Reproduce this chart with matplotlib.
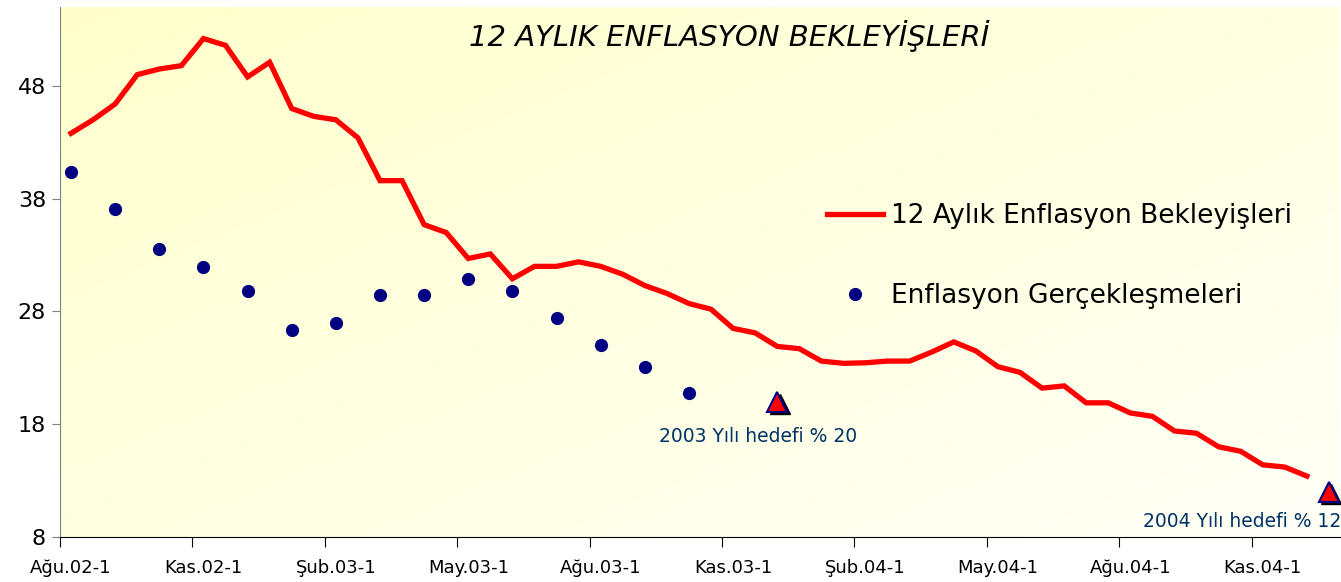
import numpy as np
import matplotlib
matplotlib.use("Agg")
import matplotlib.pyplot as plt
import matplotlib.transforms as mtransforms

# half-month categories, Ağu.02-1 = 0
tick_labels = ["Ağu.02-1", "Kas.02-1", "Şub.03-1", "May.03-1", "Ağu.03-1",
               "Kas.03-1", "Şub.04-1", "May.04-1", "Ağu.04-1", "Kas.04-1"]
n_categories = 58

expectations = [43.8, 45.0, 46.4, 49.0, 49.5, 49.8, 52.2, 51.6, 48.8, 50.1,
                46.0, 45.3, 45.0, 43.4, 39.6, 39.6, 35.7, 35.0, 32.7, 33.1,
                30.9, 32.0, 32.0, 32.4, 32.0, 31.3, 30.3, 29.6, 28.7, 28.2,
                26.5, 26.1, 24.9, 24.7, 23.6, 23.4, 23.45, 23.6, 23.6, 24.4,
                25.3, 24.5, 23.1, 22.6, 21.2, 21.4, 19.9, 19.9, 19.0, 18.7,
                17.4, 17.2, 16.0, 15.6, 14.4, 14.2, 13.4]
actual_idx = [0, 2, 4, 6, 8, 10, 12, 14, 16, 18, 20, 22, 24, 26, 28]
actuals = [40.4, 37.1, 33.5, 31.9, 29.8, 26.4, 27.0, 29.5, 29.5, 30.9,
           29.8, 27.4, 25.0, 23.05, 20.8]
target_idx = [32, 57]
targets = [20, 12]
target_labels = ["2003 Yılı hedefi % 20", "2004 Yılı hedefi % 12"]

fig = plt.figure(figsize=(13.41, 5.82), dpi=100)
ax = fig.add_axes([60 / 1341, 45 / 582, 1280 / 1341, 530 / 582])

# yellow gradient background, strongest top-left
gx, gy = np.meshgrid(np.linspace(0, 1, 200), np.linspace(0, 1, 200))
g = (gx + gy) / 2
c0 = np.array([1.0, 1.0, 0.80])
c1 = np.array([1.0, 1.0, 0.97])
img = c0 + (c1 - c0) * g[..., None]
ax.imshow(img, extent=[0, 1, 0, 1], transform=ax.transAxes, aspect="auto",
          origin="upper", zorder=0)

x = np.arange(len(expectations))
line, = ax.plot(x, expectations, color="#FF0000", lw=3.8, zorder=3,
                solid_joinstyle="miter", label="12 Aylık Enflasyon Bekleyişleri")
dots, = ax.plot(actual_idx, actuals, "o", color="#000080", ms=8.5, ls="none",
                zorder=4, label="Enflasyon Gerçekleşmeleri")

shadow = mtransforms.offset_copy(ax.transData, fig=fig, x=2.5, y=-2.5, units="dots")
ax.plot(target_idx, targets, "^", color="black", ms=15, ls="none",
        transform=shadow, zorder=5)
ax.plot(target_idx, targets, "^", color="#FF0000", mec="#000080", mew=1.5,
        ms=15, ls="none", zorder=6)

ax.annotate(target_labels[0], (target_idx[0], targets[0]), xytext=(-14, -25),
            textcoords="offset points", ha="center", va="center",
            fontsize=13.5, color="#003366", zorder=7)
ax.annotate(target_labels[1], (target_idx[1], targets[1]), xytext=(9, -21),
            textcoords="offset points", ha="right", va="center",
            fontsize=13.5, color="#003366", zorder=7)

ax.set_xlim(-0.5, n_categories - 0.5)
ax.set_ylim(8, 55)
ax.set_yticks([8, 18, 28, 38, 48])
ax.tick_params(axis="y", labelsize=16, length=6, color="#808080", pad=4)

label_pos = np.arange(len(tick_labels)) * 6
ax.set_xticks(label_pos - 0.5)
ax.set_xticklabels([])
ax.set_xticks(label_pos, minor=True)
ax.set_xticklabels(tick_labels, minor=True, fontsize=13)
ax.tick_params(axis="x", which="major", length=7, color="black")
ax.tick_params(axis="x", which="minor", length=0, pad=16)

for s in ["top", "right"]:
    ax.spines[s].set_visible(False)
ax.spines["left"].set_color("#808080")
ax.spines["bottom"].set_color("black")

ax.text(0.523, 0.945, "12 AYLIK ENFLASYON BEKLEYİŞLERİ", transform=ax.transAxes,
        ha="center", va="center", fontsize=21, style="italic")

leg = ax.legend(handles=[line, dots], loc="upper left",
                bbox_to_anchor=(0.581, 0.675), frameon=False, fontsize=19,
                handlelength=2.1, labelspacing=2.05, handletextpad=0.3)

fig.savefig("out.png", dpi=100)
